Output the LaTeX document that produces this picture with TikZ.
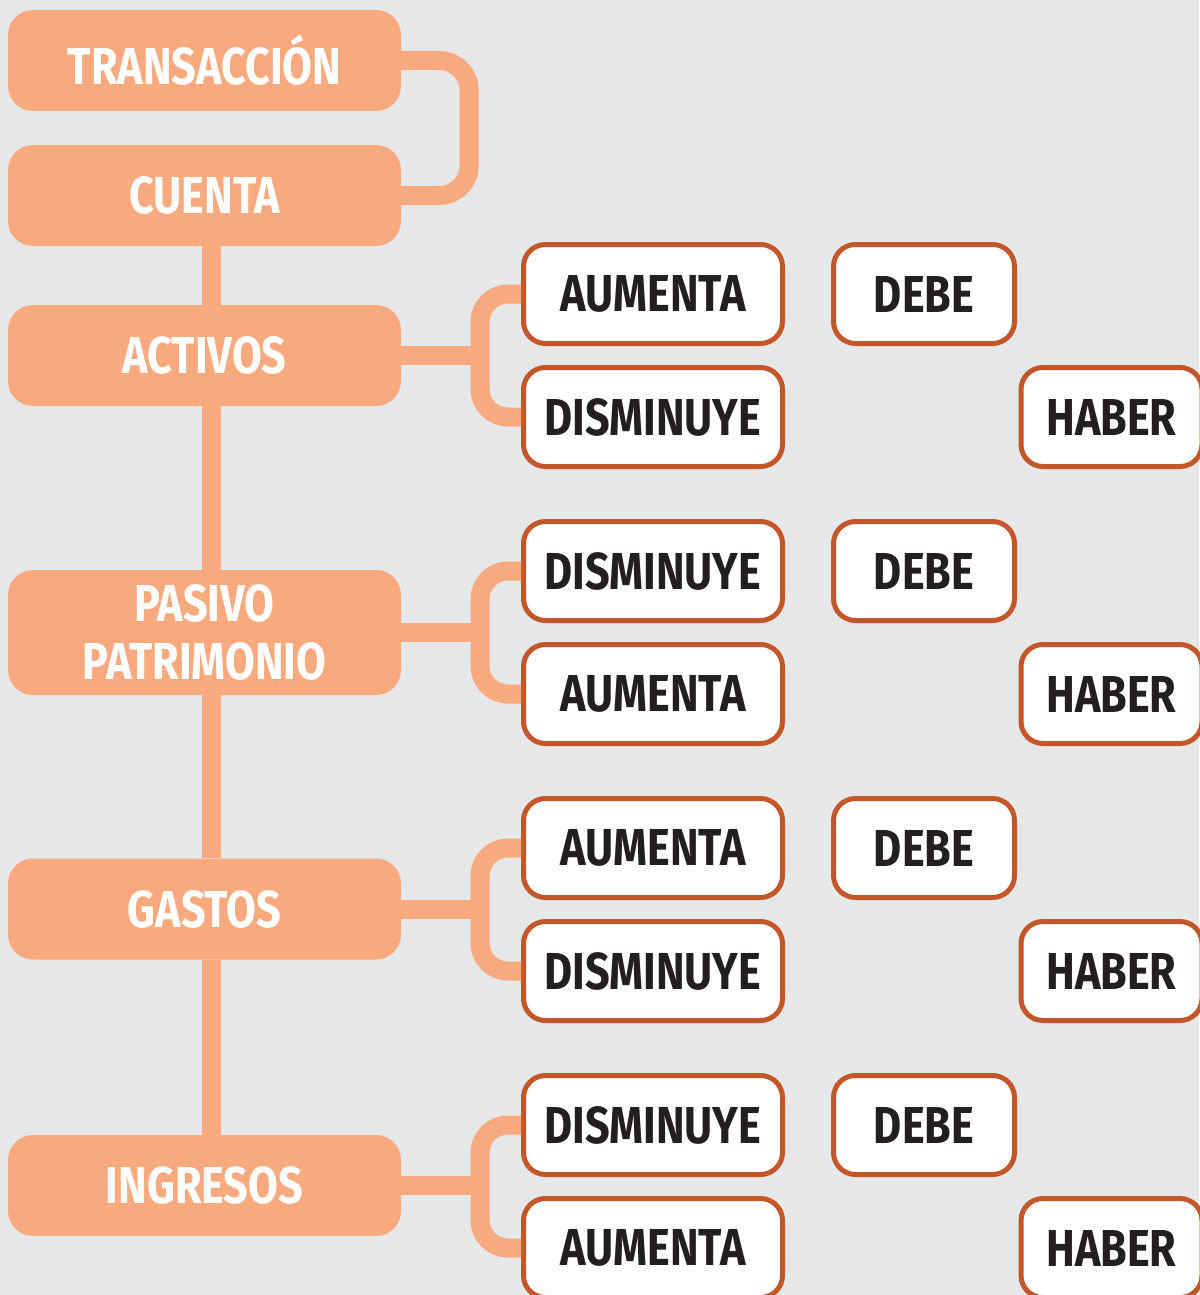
\documentclass[tikz,border=0pt]{standalone}
\usepackage{fontspec}
\setmainfont{Fira Sans}[FakeStretch=0.83]
\definecolor{peach}{HTML}{F8AA7E}
\definecolor{rust}{HTML}{C4572A}
\definecolor{ink}{HTML}{231F20}
\definecolor{paper}{HTML}{E6E7E8}

\tikzset{
  cat/.style={fill=peach, rounded corners=25pt, minimum width=393pt, minimum height=101pt,
    inner sep=0pt, text=white, align=center, font=\fontsize{52}{58}\selectfont\bfseries},
  move/.style={draw=rust, line width=5pt, fill=white, rounded corners=22pt, minimum width=259pt,
    minimum height=99pt, inner sep=0pt, text=ink, font=\fontsize{52}{58}\selectfont\bfseries},
  side/.style={move, minimum width=181pt},
  link/.style={draw=peach, line width=19pt},
}

\begin{document}
\begin{tikzpicture}[x=1pt, y=-1pt]
\fill[paper] (0,0) rectangle (1199,1295);
\useasboundingbox (0,0) rectangle (1199,1295);

% left column
\node[cat] (tra) at (204.5,60.5) {TRANSACCIÓN};
\node[cat] (cue) at (204.5,195.5) {CUENTA};
\node[cat] (act) at (204.5,355.5) {ACTIVOS};
\node[cat, minimum height=125pt] (pas) at (204.5,632.5) {PASIVO\\PATRIMONIO};
\node[cat] (gas) at (204.5,909) {GASTOS};
\node[cat] (ing) at (204.5,1185.5) {INGRESOS};

% movements
\node[move] (a1) at (653,294) {AUMENTA};
\node[move] (d1) at (653,417) {DISMINUYE};
\node[move] (d2) at (653,571) {DISMINUYE};
\node[move] (a2) at (653,694) {AUMENTA};
\node[move] (a3) at (653,848) {AUMENTA};
\node[move] (d3) at (653,971) {DISMINUYE};
\node[move] (d4) at (653,1125) {DISMINUYE};
\node[move] (a4) at (653,1248) {AUMENTA};

% debe / haber
\node[side] (debe1) at (924,294) {DEBE};
\node[side] (haber1) at (1111.5,417) {HABER};
\node[side] (debe2) at (924,571) {DEBE};
\node[side] (haber2) at (1111.5,694) {HABER};
\node[side] (debe3) at (924,848) {DEBE};
\node[side] (haber3) at (1111.5,971) {HABER};
\node[side] (debe4) at (924,1125) {DEBE};
\node[side] (haber4) at (1111.5,1248) {HABER};

% connectors
\draw[link, rounded corners=30pt] (tra.east) -- ++(68,0) |- (cue.east);
\draw[link] ([xshift=6.5pt]cue.south) -- ([xshift=6.5pt]act.north);
\draw[link] ([xshift=6.5pt]act.south) -- ([xshift=6.5pt]pas.north);
\draw[link] ([xshift=6.5pt]pas.south) -- ([xshift=6.5pt]gas.north);
\draw[link] ([xshift=6.5pt]gas.south) -- ([xshift=6.5pt]ing.north);
\draw[link, rounded corners=28pt] (a1.west) -- ++(-41,0) |- (d1.west);
\draw[link] (act.east) -- ++(80,0);
\draw[link, rounded corners=28pt] (d2.west) -- ++(-41,0) |- (a2.west);
\draw[link] (pas.east) -- ++(80,0);
\draw[link, rounded corners=28pt] (a3.west) -- ++(-41,0) |- (d3.west);
\draw[link] (gas.east) -- ++(80,0);
\draw[link, rounded corners=28pt] (d4.west) -- ++(-41,0) |- (a4.west);
\draw[link] (ing.east) -- ++(80,0);
\end{tikzpicture}
\end{document}
